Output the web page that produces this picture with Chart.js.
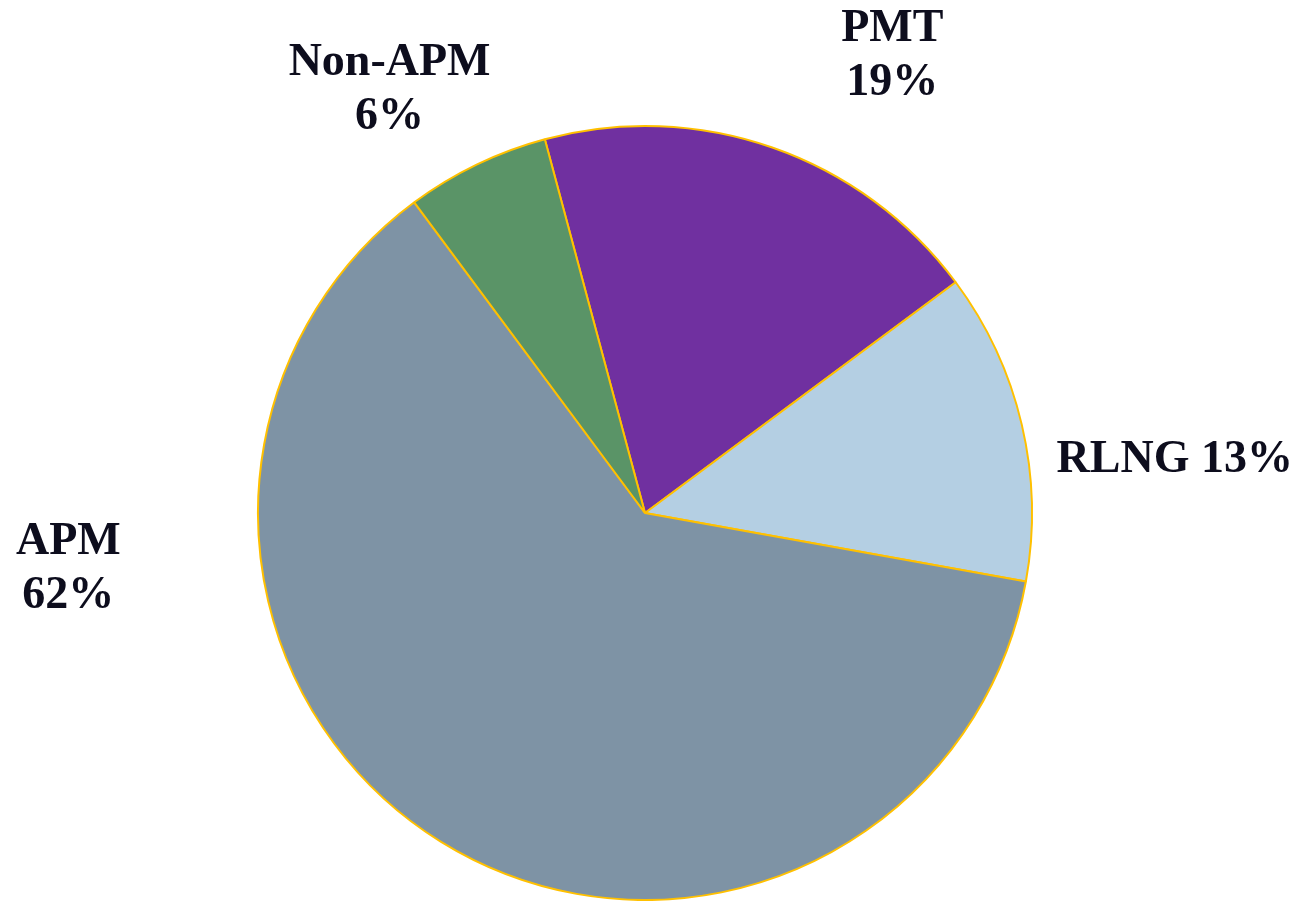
<!DOCTYPE html>
<html>
<head>
<meta charset="utf-8">
<script src="https://cdn.jsdelivr.net/npm/chart.js@4/dist/chart.umd.min.js"></script>
<style>
  html, body { margin: 0; padding: 0; background: #ffffff; }
  #wrap { width: 1299px; height: 901px; }
</style>
</head>
<body>
<div id="wrap"><canvas id="c" width="1299" height="901"></canvas></div>
<script>
// Data (clockwise from start angle)
const categories = ["PMT", "RLNG", "APM", "Non-APM"];
const shares = [19, 13, 62, 6];
const sliceColors = ["#7030A0", "#B4CFE3", "#7E93A5", "#5A9467"];
// label layout: whether name and value share a line
const singleLine = [false, true, false, false];
// label block centre offsets, in units of pie radius, from pie centre
const labelOffsets = [[0.639, -1.180], [1.369, -0.137], [-1.490, 0.144], [-0.660, -1.0915]];

const labelPlugin = {
  id: 'outerLabels',
  afterDatasetsDraw(chart) {
    const ctx = chart.ctx;
    const meta = chart.getDatasetMeta(0);
    const total = shares.reduce((a, b) => a + b, 0);
    ctx.save();
    ctx.fillStyle = '#0d0d1d';
    ctx.font = 'bold 46px "Liberation Serif", "DejaVu Serif", serif';
    ctx.textAlign = 'center';
    ctx.textBaseline = 'middle';
    const lineH = 54;
    meta.data.forEach((arc, i) => {
      const r = arc.outerRadius;
      const cx = arc.x + labelOffsets[i][0] * r;
      const cy = arc.y + labelOffsets[i][1] * r;
      const pct = Math.round(shares[i] / total * 100) + '%';
      if (singleLine[i]) {
        ctx.fillText(categories[i] + ' ' + pct, cx, cy);
      } else {
        ctx.fillText(categories[i], cx, cy - lineH / 2);
        ctx.fillText(pct, cx, cy + lineH / 2);
      }
    });
    ctx.restore();
  }
};

new Chart(document.getElementById('c'), {
  type: 'pie',
  data: {
    labels: categories,
    datasets: [{
      data: shares,
      backgroundColor: sliceColors,
      borderColor: '#FFC000',
      borderWidth: 2,
      hoverOffset: 0
    }]
  },
  options: {
    responsive: false,
    animation: false,
    rotation: -15,
    layout: { padding: { top: 125, bottom: 0, left: 257, right: 266 } },
    plugins: {
      legend: { display: false },
      tooltip: { enabled: false }
    }
  },
  plugins: [labelPlugin]
});
</script>
</body>
</html>
